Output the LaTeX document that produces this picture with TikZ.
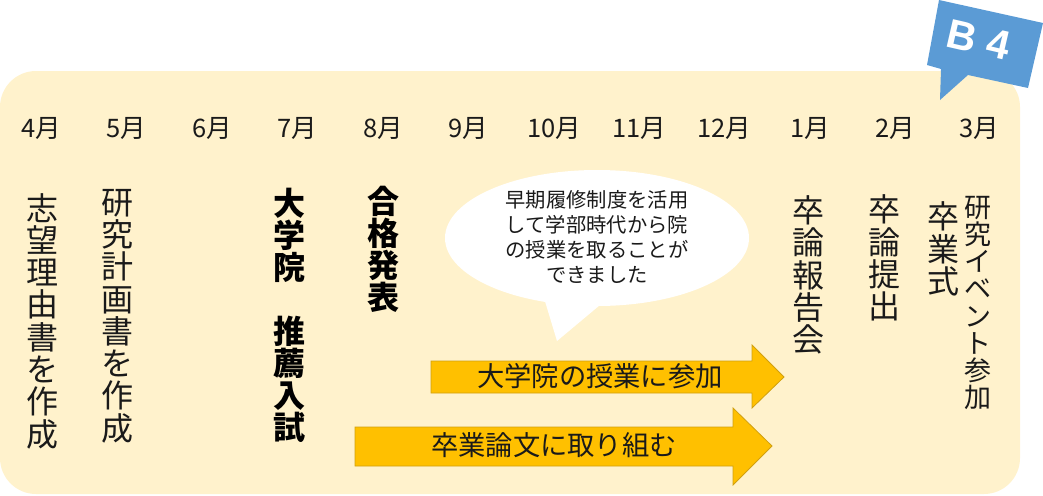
\documentclass[tikz,border=0pt]{standalone}
\usepackage{fontspec}
\setmainfont{Noto Sans CJK JP}
\newcommand{\fsz}[2]{\fontsize{#1}{#2}\selectfont\lineskiplimit=-20pt\relax}
\tikzset{
  month/.style={inner sep=0pt,font=\fsz{25.5}{28},text=textcol},
  vtext/.style={inner sep=0pt,align=center,font=\fsz{32}{32.3},text=textcol},
  vsmall/.style={inner sep=0pt,align=center,font=\fsz{27}{27.2},text=textcol},
  vbold/.style={inner sep=0pt,align=center,font=\fsz{32}{32}\bfseries,text=black},
  bubble/.style={fill=white,draw=none},
  bubbletext/.style={inner sep=0pt,align=center,font=\fsz{20.3}{25},text=textcol},
  arrowshape/.style={fill=arrowfill,draw=arrowline,line width=0.8pt,line join=miter},
  arrowtext/.style={inner sep=0pt,font=\fsz{27.3}{30},text=textcol},
  badge/.style={fill=badgecol,draw=none},
}
\definecolor{panelcol}{HTML}{FFF2CC}
\definecolor{textcol}{HTML}{1A1A1A}
\definecolor{arrowfill}{HTML}{FFC000}
\definecolor{arrowline}{HTML}{D0A010}
\definecolor{badgecol}{HTML}{5B9BD5}
\begin{document}
\begin{tikzpicture}[x=1pt,y=-1pt]
\useasboundingbox (0,0) rectangle (1043,495);
\fill[panelcol,rounded corners=36pt] (0,71) rectangle (1020,494);
% badge
\fill[badge] (939,0) -- (1043,23) -- (1028,88) -- (968,75) -- (940,100) -- (941,69) -- (927,65) -- cycle;
\node[inner sep=0pt,rotate=-13,text=white,font=\fontsize{41}{44}\selectfont\fontspec{Liberation Sans}\bfseries] (b4) at (979,40) {B 4};
% months
\node[month] (m4) at (41,128) {4月};
\node[month] (m5) at (126,128) {5月};
\node[month] (m6) at (212,128) {6月};
\node[month] (m7) at (297,128) {7月};
\node[month] (m8) at (383,128) {8月};
\node[month] (m9) at (468,128) {9月};
\node[month] (m10) at (554,128) {10月};
\node[month] (m11) at (639,128) {11月};
\node[month] (m12) at (724,128) {12月};
\node[month] (m1) at (810,128) {1月};
\node[month] (m2) at (895,128) {2月};
\node[month] (m3) at (979,128) {3月};
% vertical labels
\node[vtext] (a) at (42.5,321) {志\\望\\理\\由\\書\\を\\作\\成};
\node[vtext] (b) at (117,316) {研\\究\\計\\画\\書\\を\\作\\成};
\node[vbold] (c) at (289,315) {大\\学\\院\\　\\推\\薦\\入\\試};
\node[vbold] (d) at (383,249) {合\\格\\発\\表};
\node[vtext] (e) at (808,275) {卒\\論\\報\\告\\会};
\node[vtext] (f) at (884,258) {卒\\論\\提\\出};
\node[vtext] (g) at (943,249) {卒\\業\\式};
\node[vsmall] (h) at (978,303) {研\\究\\イ\\ベ\\ン\\ト\\参\\加};
% bubble
\fill[bubble] (597,238) ellipse [x radius=152pt,y radius=68pt];
\fill[bubble] (544,298) -- (557,341) -- (600,305) -- cycle;
\node[bubbletext] (t) at (597,236.5) {早期履修制度を活用\\して学部時代から院\\の授業を取ることが\\できました};
% arrows
\draw[arrowshape] (431,361) -- (752,361) -- (752,345) -- (784,377) -- (752,408) -- (752,393) -- (431,393) -- cycle;
\draw[arrowshape] (355,427) -- (733,427) -- (733,408) -- (772,446) -- (733,485) -- (733,466) -- (355,466) -- cycle;
\node[arrowtext] (p) at (600,376) {大学院の授業に参加};
\node[arrowtext] (q) at (554,445) {卒業論文に取り組む};
\end{tikzpicture}
\end{document}
